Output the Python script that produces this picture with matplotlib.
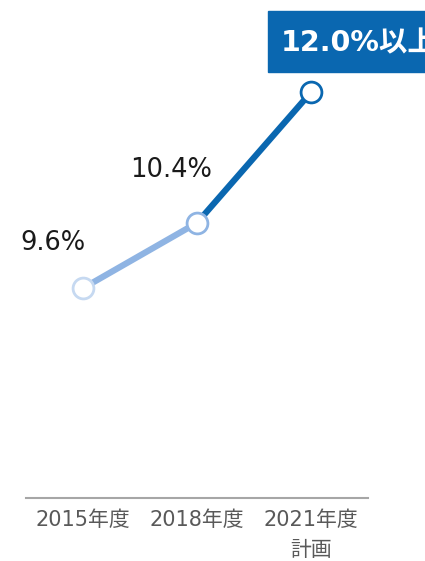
import matplotlib
matplotlib.use('Agg')
import matplotlib.pyplot as plt
from matplotlib.patches import Rectangle

plt.rcParams['font.family'] = ['DejaVu Sans', 'Noto Sans CJK JP']

# データ
years = ['2015年度', '2018年度', '2021年度\n計画']
values = [9.6, 10.4, 12.0]
value_labels = ['9.6%', '10.4%']
target_label = '12.0%以上'

light = '#8fb4e3'
dark = '#0a67b0'
pale = '#c6d9f1'

fig = plt.figure(figsize=(4.25, 5.61), dpi=100)
ax = fig.add_axes([26 / 425, 63 / 561, 342 / 425, 498 / 561])

x = list(range(len(values)))

# 線分 (色分け)
ax.plot(x[0:2], values[0:2], color=light, lw=4.5, solid_capstyle='butt', zorder=2)
ax.plot(x[1:3], values[1:3], color=dark, lw=4.5, solid_capstyle='butt', zorder=2)

# マーカー
edge_colors = [pale, light, dark]
for i in x:
    ax.plot(x[i], values[i], marker='o', ms=15, mfc='white', mec=edge_colors[i],
            mew=2.0, zorder=3)

# 数値ラベル
offsets = [(-30, 45), (-26, 53)]
for i, lab in enumerate(value_labels):
    ax.annotate(lab, (x[i], values[i]), xytext=offsets[i], textcoords='offset pixels',
                ha='center', va='center', fontsize=18.5, color='#1a1a1a')

ax.set_xlim(-0.5, 2.5)
ax.set_ylim(7.03, 13.13)
ax.set_xticks(x)
ax.set_xticklabels(years, fontsize=15, color='#595959', linespacing=1.6, va='top')
ax.tick_params(axis='x', length=0, pad=9)
ax.set_yticks([])
for s in ['top', 'left', 'right']:
    ax.spines[s].set_visible(False)
ax.spines['bottom'].set_color('#a6a6a6')
ax.spines['bottom'].set_linewidth(1.5)

# 目標値ボックス
fig.patches.append(Rectangle((268 / 425, 1 - 72 / 561), 1, 61 / 561,
                             transform=fig.transFigure, color=dark, zorder=5))
fig.text(281 / 425, 1 - 43 / 561, target_label, fontsize=20.5, fontweight='bold',
         color='white', ha='left', va='center', zorder=6)

fig.savefig('out.png', dpi=100)
